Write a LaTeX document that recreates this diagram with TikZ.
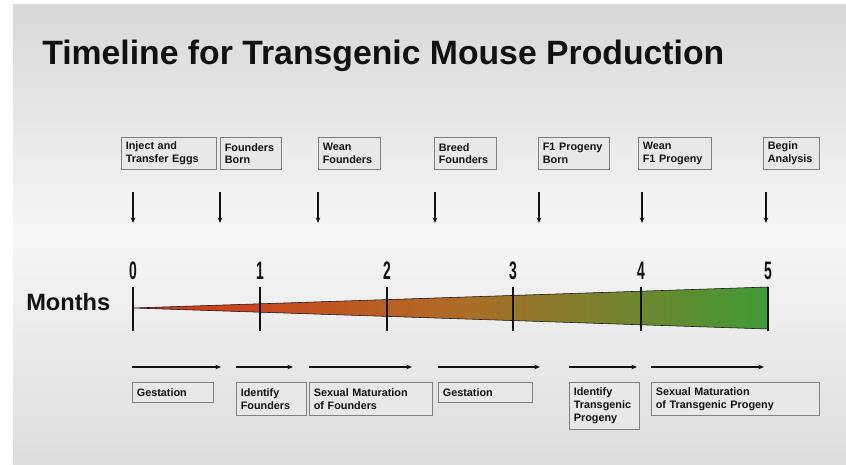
\documentclass[tikz,border=0pt]{standalone}
\usepackage{fontspec}
\setmainfont{Liberation Sans}
\newfontfamily\narrowfont{Liberation Sans}[FakeStretch=0.55]
\usetikzlibrary{arrows.meta}
\definecolor{slidetop}{HTML}{D8D8D8}
\definecolor{slidemid}{HTML}{F6F6F6}
\definecolor{slidebot}{HTML}{DDDDDD}
\definecolor{boxline}{HTML}{808080}
\definecolor{boxfill}{HTML}{E8E8E8}
\definecolor{ink}{HTML}{111111}
\definecolor{early}{HTML}{D8341B}
\definecolor{mid}{HTML}{B06A26}
\definecolor{late}{HTML}{3F9A35}

\begin{document}
\begin{tikzpicture}[
  x=0.025cm, y=-0.025cm, >={Stealth[length=4pt,width=3.2pt]},
  every node/.append style={text=ink},
  stagebox/.style={draw=boxline, line width=0.9pt, fill=boxfill, anchor=north west,
    align=left, inner xsep=3pt, inner ysep=2pt, font=\fontsize{7.7}{9.2}\selectfont\bfseries},
  tickline/.style={draw=ink, line width=0.9pt},
  flow/.style={->, draw=ink, line width=0.8pt},
]
\useasboundingbox (0,0) rectangle (846,465);
\fill[white] (0,0) rectangle (846,465);
% --- slide background ---
\shade[top color=slidetop, bottom color=slidebot, middle color=slidemid] (13,5) rectangle (846,465);
% --- title ---
\node[anchor=base west, inner sep=0pt, font=\fontsize{24}{28}\selectfont\bfseries] (title) at (42,65)
  {Timeline for Transgenic Mouse Production};
% --- events (top row) ---
\node[stagebox, minimum width=2.375cm, minimum height=0.8cm, text width=2.165cm] (inject) at (121,137) {Inject and\\Transfer Eggs};
\node[stagebox, minimum width=1.525cm, minimum height=0.8cm, text width=1.315cm] (born) at (220,137) {Founders\\Born};
\node[stagebox, minimum width=1.55cm, minimum height=0.8cm, text width=1.34cm] (wean) at (318,137) {Wean\\Founders};
\node[stagebox, minimum width=1.55cm, minimum height=0.8cm, text width=1.34cm] (breed) at (434,137) {Breed\\Founders};
\node[stagebox, minimum width=1.775cm, minimum height=0.8cm, text width=1.565cm] (fborn) at (538,137) {F1 Progeny\\Born};
\node[stagebox, minimum width=1.825cm, minimum height=0.8cm, text width=1.615cm] (fwean) at (638,137) {Wean\\F1 Progeny};
\node[stagebox, minimum width=1.4cm, minimum height=0.8cm, text width=1.19cm] (begin) at (763,137) {Begin\\Analysis};
% event markers
\foreach \i/\x in {1/133,2/220,3/318,4/435,5/539,6/642,7/766} {
  \coordinate (dtop\i) at (\x,192);
  \coordinate (dbot\i) at (\x,223);
  \draw[flow] (dtop\i) -- (dbot\i);
}
% --- month axis ---
\shade[left color=early, right color=late, middle color=mid, draw=ink, line width=0.4pt]
  (133,308) -- (768,287) -- (768,329) -- cycle;
\foreach \i/\x in {0/133,1/260,2/387,3/513,4/641,5/768} {
  \draw[tickline] (\x,287) -- (\x,331);
  \node[font=\narrowfont\fontsize{18}{20}\selectfont\bfseries, inner sep=0pt] (num\i) at (\x,271) {\i};
}
\node[anchor=base west, inner sep=0pt, font=\fontsize{16.8}{20}\selectfont\bfseries] (months) at (26,310) {Months};
% --- phases (bottom row) ---
\foreach \i/\a/\b in {1/132/221,2/236/293,3/309/412,4/438/540,5/569/637,6/651/764} {
  \coordinate (pfrom\i) at (\a,367);
  \coordinate (pto\i) at (\b,367);
  \draw[flow] (pfrom\i) -- (pto\i);
}
\node[stagebox, minimum width=2.025cm, minimum height=0.5cm, text width=1.815cm] (gest1) at (132,382) {Gestation};
\node[stagebox, minimum width=1.75cm, minimum height=0.825cm, text width=1.54cm] (idf) at (236,382) {Identify\\Founders};
\node[stagebox, minimum width=3.075cm, minimum height=0.825cm, text width=2.865cm] (sexf) at (309,382) {Sexual Maturation\\of Founders};
\node[stagebox, minimum width=2.35cm, minimum height=0.5cm, text width=2.14cm] (gest2) at (438,382) {Gestation};
\node[stagebox, minimum width=1.75cm, minimum height=1.175cm, text width=1.54cm] (idt) at (569,382) {Identify\\Transgenic\\Progeny};
\node[stagebox, minimum width=4.2cm, minimum height=0.825cm, text width=3.99cm] (sext) at (651,382) {Sexual Maturation\\of Transgenic Progeny};
\end{tikzpicture}
\end{document}
